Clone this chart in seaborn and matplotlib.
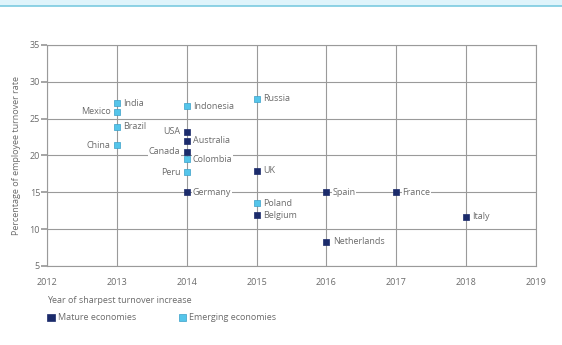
import pandas as pd
import matplotlib.pyplot as plt
import seaborn as sns
from matplotlib.patches import Rectangle

countries = ['India', 'Mexico', 'Brazil', 'China', 'Indonesia', 'USA', 'Australia',
             'Canada', 'Colombia', 'Peru', 'Germany', 'Russia', 'UK', 'Poland',
             'Belgium', 'Spain', 'Netherlands', 'France', 'Italy']
years = [2013, 2013, 2013, 2013, 2014, 2014, 2014,
         2014, 2014, 2014, 2014, 2015, 2015, 2015,
         2015, 2016, 2016, 2017, 2018]
rates = [27.1, 25.9, 23.9, 21.4, 26.7, 23.2, 22.0,
         20.5, 19.5, 17.7, 15.0, 27.7, 17.9, 13.5,
         11.9, 15.0, 8.3, 15.0, 11.7]
groups = ['Emerging economies'] * 5 + ['Mature economies'] * 3 + ['Emerging economies'] * 2 + \
         ['Mature economies', 'Emerging economies', 'Mature economies', 'Emerging economies'] + \
         ['Mature economies'] * 5
label_left = ['Mexico', 'China', 'USA', 'Canada', 'Peru']

df = pd.DataFrame({'Country': countries, 'Year': years, 'Rate': rates, 'Group': groups})

MATURE = '#1b2b6b'
EMERGING = '#55c5ea'
EMERGING_EDGE = '#3a9fc8'
GRID = '#9a9a9a'
TEXT = '#6b6b6b'

sns.set_theme(style='white')
plt.rcParams['font.family'] = ['Open Sans', 'DejaVu Sans']

fig = plt.figure(figsize=(5.62, 3.45), dpi=100)
ax = fig.add_axes([0.0836, 0.229, 0.870, 0.641])

# header band
fig.patches.append(Rectangle((0, 0.984), 1, 0.016, transform=fig.transFigure,
                             facecolor='#dff4fb', edgecolor='none'))
fig.add_artist(plt.Line2D([0, 1], [0.984, 0.984], transform=fig.transFigure,
                          color='#7ccbe0', linewidth=1.2))

palette = {'Mature economies': MATURE, 'Emerging economies': EMERGING}
for grp, sub in df.groupby('Group'):
    sns.scatterplot(data=sub, x='Year', y='Rate', marker='s', s=24,
                    color=palette[grp],
                    edgecolor=MATURE if grp == 'Mature economies' else EMERGING_EDGE,
                    linewidth=0.5, legend=False, ax=ax, zorder=5)

for _, r in df.iterrows():
    left = r['Country'] in label_left
    ax.annotate(r['Country'], (r['Year'], r['Rate']), xytext=(-4.5 if left else 4.5, 0),
                textcoords='offset points', ha='right' if left else 'left', va='center',
                fontsize=6.5, color=TEXT, zorder=4,
                bbox=dict(facecolor='white', edgecolor='none', pad=0.3))

ax.set_xlim(2012, 2019)
ax.set_ylim(5, 35)
ax.set_xticks(range(2012, 2020))
ax.set_yticks(range(5, 40, 5))
ax.grid(True, color=GRID, linewidth=0.8)
ax.set_axisbelow(True)
for s in ax.spines.values():
    s.set_color(GRID)
    s.set_linewidth(0.8)
ax.tick_params(axis='y', left=True, length=4, color=GRID, labelsize=6.5,
               labelcolor=TEXT, pad=1)
ax.tick_params(axis='x', bottom=False, labelsize=6.5, labelcolor=TEXT, pad=3)
ax.set_xlabel('')
ax.set_ylabel('Percentage of employee turnover rate', fontsize=6.5, color=TEXT, labelpad=6)

fig.text(0.0836, 0.13, 'Year of sharpest turnover increase', fontsize=6.5, color=TEXT,
         va='center')
# legend
fig.patches.append(Rectangle((0.0845, 0.069), 0.0125, 0.02, transform=fig.transFigure,
                             facecolor=MATURE, edgecolor=MATURE, linewidth=0.5))
fig.text(0.103, 0.079, 'Mature economies', fontsize=6.5, color=TEXT, va='center')
fig.patches.append(Rectangle((0.3185, 0.069), 0.0125, 0.02, transform=fig.transFigure,
                             facecolor=EMERGING, edgecolor=EMERGING_EDGE, linewidth=0.5))
fig.text(0.336, 0.079, 'Emerging economies', fontsize=6.5, color=TEXT, va='center')

fig.savefig('out.png', dpi=100)
